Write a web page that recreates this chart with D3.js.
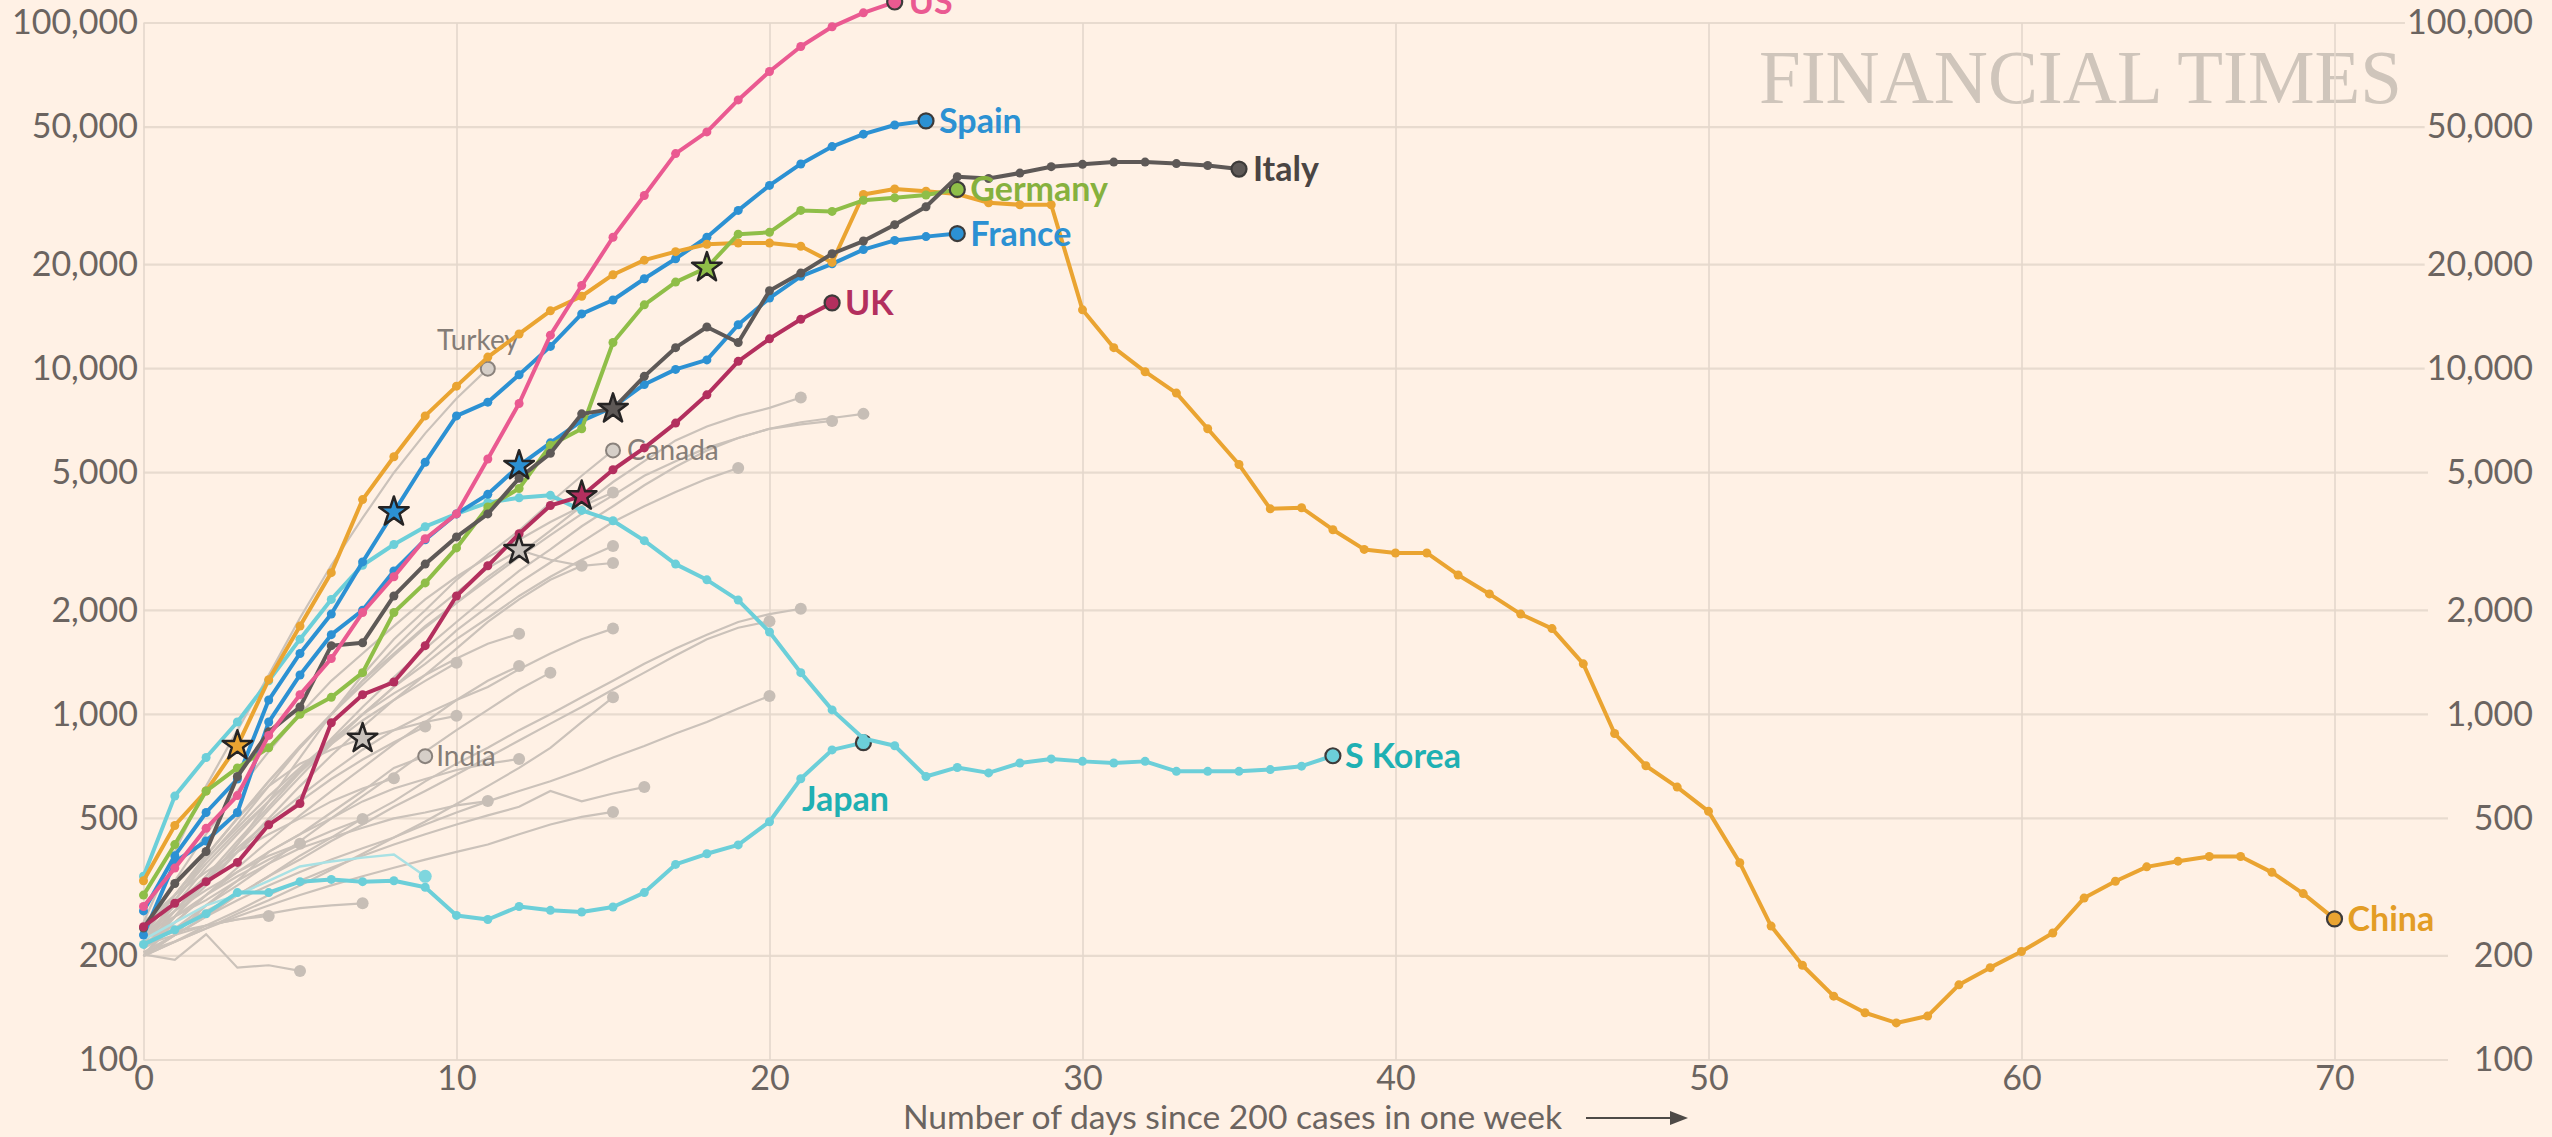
<!DOCTYPE html>
<html>
<head>
<meta charset="utf-8">
<script src="https://cdn.jsdelivr.net/npm/d3@7"></script>
<style>
  body { margin: 0; background: #fff1e5; }
  svg { display: block; font-family: Lato, "Open Sans", sans-serif; }
</style>
</head>
<body>
<svg id="chart"></svg>
<script>
// ---- data: new cases in the past week, by days since 200 cases in one week ----
const xTicks = [0, 10, 20, 30, 40, 50, 60, 70];
const yTicks = [100, 200, 500, 1000, 2000, 5000, 10000, 20000, 50000, 100000];

const us = [278, 359, 468, 582, 869, 1140, 1450, 1970, 2500, 3220, 3800, 5480, 7930, 12500, 17400, 24000, 31700, 41900, 48400, 59900, 72400, 85500, 97500, 107000, 115000];
const spain = [270, 390, 520, 650, 1100, 1500, 1950, 2760, 3850, 5360, 7300, 8000, 9600, 11600, 14400, 15800, 18200, 20800, 24000, 28700, 33900, 39100, 43900, 47700, 50700, 52100];
const italy = [241, 324, 401, 661, 890, 1050, 1580, 1610, 2200, 2720, 3260, 3800, 4820, 5690, 7400, 7650, 9500, 11500, 13200, 11900, 16800, 18900, 21500, 23400, 26100, 29400, 35900, 35500, 36800, 38400, 39000, 39600, 39600, 39200, 38700, 37800];
const germany = [300, 420, 600, 700, 800, 1000, 1120, 1320, 1970, 2400, 3030, 3980, 4500, 6000, 6700, 11900, 15300, 17800, 19600, 24500, 24800, 28700, 28500, 30700, 31200, 31800, 33000];
const france = [230, 374, 430, 520, 950, 1300, 1700, 2000, 2600, 3200, 3800, 4330, 5240, 6100, 7060, 7740, 9000, 9950, 10600, 13400, 16000, 18500, 20100, 22100, 23500, 24100, 24600];
const uk = [243, 284, 328, 373, 479, 552, 945, 1140, 1240, 1580, 2200, 2690, 3330, 4020, 4280, 5100, 5900, 6960, 8400, 10500, 12200, 13900, 15500];
const china = [330, 477, 600, 811, 1260, 1800, 2570, 4180, 5560, 7300,
  8900, 10800, 12600, 14700, 16200, 18700, 20600, 21800, 22900, 23100,
  23100, 22600, 20300, 31900, 33100, 32600, 32000, 30200, 29800, 29800,
  14800, 11500, 9800, 8500, 6700, 5280, 3930, 3960, 3420, 3000,
  2930, 2930, 2530, 2230, 1950, 1770, 1400, 880, 710, 616,
  524, 372, 244, 188, 153, 137, 128, 134, 165, 185,
  206, 233, 294, 329, 362, 376, 388, 388, 349, 303, 256];
const japan = [216, 238, 265, 305, 305, 328, 333, 328, 330, 316, 262, 255, 278, 271, 268, 277, 305, 368, 395, 419, 489, 651, 789, 828];
const sKorea = [340, 580, 750, 950, 1250, 1650, 2150, 2700, 3100, 3490, 3800, 4100, 4230, 4300, 3890, 3630, 3180, 2720, 2450, 2140, 1730, 1320, 1030, 851, 811, 661, 702, 677, 723, 743, 731, 723, 731, 684, 684, 684, 692, 708, 759];
const paleCyan = [223, 250, 280, 300, 330, 363, 375, 385, 393, 340];

const turkey = [250, 400, 620, 900, 1300, 1900, 2700, 3700, 5000, 6500, 8200, 10000];
const canada = [210, 260, 330, 420, 560, 750, 1000, 1300, 1650, 2000, 2450, 2900, 3400, 4100, 4900, 5800];
const india = [200, 230, 280, 330, 400, 450, 520, 600, 700, 757];

const others = [
  [220, 290, 380, 480, 620, 800, 1000, 1250, 1500, 1800, 2100, 2500, 2900, 3400, 4000, 4700, 5400, 6200, 6800, 7300, 7700, 8250],
  [210, 270, 340, 430, 540, 680, 850, 1050, 1280, 1550, 1850, 2200, 2600, 3000, 3500, 4000, 4600, 5200, 5800, 6300, 6700, 7000, 7200, 7400],
  [230, 300, 390, 500, 640, 800, 1000, 1220, 1480, 1780, 2100, 2450, 2850, 3300, 3800, 4300, 4900, 5400, 5900, 6300, 6700, 6900, 7060],
  [200, 260, 330, 420, 530, 660, 820, 1000, 1200, 1450, 1750, 2050, 2400, 2750, 3150, 3600, 4000, 4400, 4800, 5160],
  [240, 330, 450, 600, 780, 1000, 1250, 1500, 1800, 2150, 2500, 2850, 3200, 3600, 4000, 4380],
  [220, 280, 360, 450, 560, 690, 830, 1000, 1200, 1400, 1650, 1900, 2200, 2500, 2800, 3070],
  [230, 300, 390, 500, 640, 810, 1000, 1250, 1550, 1900, 2250, 2650, 2990, 2800, 2690, 2740],
  [210, 260, 320, 400, 500, 620, 760, 920, 1100, 1300, 1550, 1850, 2150, 2450, 2690],
  [200, 230, 260, 300, 340, 390, 440, 500, 560, 640, 720, 800, 900, 1000, 1120, 1250, 1400, 1550, 1700, 1850, 1950, 2020],
  [215, 240, 270, 300, 340, 380, 430, 480, 540, 600, 670, 750, 840, 940, 1050, 1180, 1320, 1480, 1650, 1780, 1860],
  [230, 280, 340, 410, 490, 580, 680, 790, 900, 1000, 1100, 1200, 1350, 1500, 1650, 1770],
  [240, 300, 380, 470, 580, 700, 840, 1000, 1150, 1300, 1450, 1600, 1710],
  [220, 290, 370, 460, 560, 680, 820, 960, 1100, 1250, 1410],
  [200, 250, 300, 360, 430, 510, 600, 700, 820, 950, 1100, 1250, 1380],
  [210, 240, 280, 320, 370, 430, 500, 580, 670, 780, 900, 1030, 1180, 1320],
  [200, 220, 240, 265, 290, 320, 355, 395, 440, 490, 550, 620, 700, 800, 950, 1120],
  [205, 230, 260, 290, 320, 350, 380, 410, 440, 480, 520, 560, 600, 640, 690, 750, 810, 880, 950, 1040, 1130],
  [230, 300, 390, 500, 620, 720, 790, 851, 900, 950, 990],
  [220, 270, 330, 400, 480, 560, 650, 740, 830, 922],
  [210, 250, 300, 350, 400, 450, 500, 560, 610, 650, 690, 720, 743],
  [200, 220, 245, 270, 300, 330, 360, 390, 420, 450, 480, 510, 540, 600, 560, 590, 616],
  [230, 260, 290, 330, 370, 410, 440, 470, 500, 520, 545, 561],
  [205, 220, 240, 260, 280, 300, 320, 340, 360, 380, 400, 420, 450, 480, 505, 522],
  [220, 260, 300, 340, 380, 420, 460, 498],
  [230, 270, 310, 350, 390, 422],
  [215, 230, 245, 255, 265, 275, 280, 284],
  [220, 235, 245, 255, 261],
  [202, 195, 231, 185, 188, 181],
  [250, 300, 350, 400, 450, 500, 560, 610, 653]
];

// lockdown stars: [series, day]
const stars = [
  [others[17], 7], [others[6], 12],
  [china, 3], [spain, 8], [france, 12], [uk, 14], [italy, 15], [germany, 18]
];

// ---- look ----
const highlighted = [
  { name: "Japan", data: japan, color: "#6ccfd9", text: "#1fb0b3", dx: -18, dy: 68, anchor: "middle" },
  { name: "S Korea", data: sKorea, color: "#6ccfd9", text: "#1fb0b3", dx: 12, dy: 12 },
  { name: "France", data: france, color: "#2c91d3", text: "#2c91d3", dx: 13, dy: 12 },
  { name: "Spain", data: spain, color: "#2c91d3", text: "#2c91d3", dx: 13, dy: 12 },
  { name: "China", data: china, color: "#eaa431", text: "#e39d25", dx: 13, dy: 12 },
  { name: "Germany", data: germany, color: "#8fbe48", text: "#86b13e", dx: 13, dy: 12 },
  { name: "Italy", data: italy, color: "#5e5957", text: "#4a4543", dx: 14, dy: 12 },
  { name: "UK", data: uk, color: "#b32f5e", text: "#b32f5e", dx: 13, dy: 12 },
  { name: "US", data: us, color: "#ea5a91", text: "#ea5a91", dx: 14, dy: 12 }
];
const namedGrey = [
  { name: "Turkey", data: turkey, dx: 31, dy: -19, anchor: "end" },
  { name: "Canada", data: canada, dx: 14, dy: 10 },
  { name: "India", data: india, dx: 11, dy: 10 }
];

const W = 2552, H = 1137;
const x = d3.scaleLinear().domain([0, 70]).range([143.5, 2334.5]);
const y = d3.scaleLog().domain([100, 100000]).range([1060, 23]);
const line = d3.line().x((d, i) => x(i)).y(d => y(d));
const pts = arr => arr.map((v, i) => [x(i), y(v)]);

const svg = d3.select("#chart").attr("width", W).attr("height", H);
svg.append("rect").attr("width", W).attr("height", H).attr("fill", "#fff1e5");

// watermark
svg.append("text")
  .attr("x", 1759).attr("y", 103)
  .attr("textLength", 643).attr("lengthAdjust", "spacingAndGlyphs")
  .style("font-family", "'Liberation Serif', 'DejaVu Serif', serif")
  .style("font-size", "76px")
  .attr("fill", "#cfc5bb")
  .text("FINANCIAL TIMES");

// vertical grid
svg.append("g")
  .attr("transform", `translate(0,${y(100)})`)
  .call(d3.axisBottom(x).tickValues(xTicks).tickSize(-(y(100) - y(100000))).tickFormat(""))
  .call(g => g.select(".domain").remove())
  .call(g => g.selectAll("line").attr("stroke", "#e4d7cc").attr("stroke-width", 1.6));

// right axis labels (drawn first so grid can stop short of them)
const fmt = d3.format(",");
const rightAx = svg.append("g")
  .attr("transform", "translate(2533,0)")
  .call(d3.axisRight(y).tickValues(yTicks).tickFormat(fmt).tickSize(0).tickPadding(0))
  .call(g => g.select(".domain").remove());
rightAx.selectAll("text").attr("text-anchor", "end");

// left axis labels
svg.append("g")
  .attr("transform", "translate(138,0)")
  .call(d3.axisLeft(y).tickValues(yTicks).tickFormat(fmt).tickSize(0).tickPadding(0))
  .call(g => g.select(".domain").remove());

// bottom axis labels
svg.append("g")
  .attr("transform", `translate(0,${y(100)})`)
  .call(d3.axisBottom(x).tickValues(xTicks).tickSize(0).tickPadding(6))
  .call(g => g.select(".domain").remove());

svg.selectAll(".tick text")
  .style("font-family", "Lato, sans-serif")
  .style("font-size", "34px")
  .attr("fill", "#6b6460");

// horizontal grid, stopping short of the right-hand labels
const hg = svg.insert("g", "g");
rightAx.selectAll(".tick").each(function (d) {
  const bb = d3.select(this).select("text").node().getBBox();
  const end = fmt(d).length <= 3 ? 2448 : Math.min(2428, 2533 + bb.x - 2);
  hg.append("line")
    .attr("x1", x(0)).attr("x2", end)
    .attr("y1", y(d)).attr("y2", y(d))
    .attr("stroke", "#e8dbcf").attr("stroke-width", 2.2);
});

// axis title + arrow
svg.append("text")
  .attr("x", 903).attr("y", 1129)
  .attr("textLength", 659).attr("lengthAdjust", "spacingAndGlyphs")
  .style("font-size", "32px").attr("fill", "#6b6460")
  .text("Number of days since 200 cases in one week");
svg.append("line").attr("x1", 1586).attr("x2", 1672).attr("y1", 1118).attr("y2", 1118)
  .attr("stroke", "#4e4a47").attr("stroke-width", 2);
svg.append("path").attr("d", "M1670,1111 L1688,1118 L1670,1125 Z").attr("fill", "#4e4a47");

// grey countries
const greyG = svg.append("g");
others.concat([turkey, canada, india]).forEach(arr => {
  greyG.append("path").attr("d", line(arr)).attr("fill", "none")
    .attr("stroke", "#cbc2ba").attr("stroke-width", 2.2);
});
others.forEach(arr => {
  const [px, py] = pts(arr)[arr.length - 1];
  greyG.append("circle").attr("cx", px).attr("cy", py).attr("r", 6).attr("fill", "#c7beb6");
});
namedGrey.forEach(s => {
  const [px, py] = pts(s.data)[s.data.length - 1];
  greyG.append("circle").attr("cx", px).attr("cy", py).attr("r", 7)
    .attr("fill", "#d6cfc8").attr("stroke", "#8a827c").attr("stroke-width", 2);
  greyG.append("text").attr("x", px + s.dx).attr("y", py + s.dy)
    .attr("text-anchor", s.anchor || "start")
    .style("font-size", "28px").attr("fill", "#857d77").text(s.name);
});

// faint cyan series
svg.append("path").attr("d", line(paleCyan)).attr("fill", "none")
  .attr("stroke", "#a9e1e4").attr("stroke-width", 2.5);
{
  const [px, py] = pts(paleCyan)[paleCyan.length - 1];
  svg.append("circle").attr("cx", px).attr("cy", py).attr("r", 6.5).attr("fill", "#7fd6de");
}

// highlighted countries
const hl = svg.append("g");
highlighted.forEach(s => {
  const g = hl.append("g");
  g.append("path").attr("d", line(s.data)).attr("fill", "none")
    .attr("stroke", s.color).attr("stroke-width", 4).attr("stroke-linejoin", "round");
  g.selectAll("circle.dot").data(pts(s.data).slice(0, -1)).join("circle")
    .attr("class", "dot").attr("cx", d => d[0]).attr("cy", d => d[1]).attr("r", 4.5)
    .attr("fill", s.color);
  const [px, py] = pts(s.data)[s.data.length - 1];
  g.append("circle").attr("cx", px).attr("cy", py).attr("r", 7.5)
    .attr("fill", s.color).attr("stroke", "#3d3b3a").attr("stroke-width", 2.2);
});

// stars
const starPath = d3.symbol(d3.symbolStar, 270)();
stars.forEach(([arr, day]) => {
  const s = highlighted.find(h => h.data === arr);
  svg.append("path").attr("d", starPath)
    .attr("transform", `translate(${x(day)},${y(arr[day])})`)
    .attr("fill", s ? s.color : "#c8c1bb")
    .attr("stroke", "#262424").attr("stroke-width", 2.5).attr("stroke-linejoin", "round");
});

// labels
highlighted.forEach(s => {
  const [px, py] = pts(s.data)[s.data.length - 1];
  svg.append("text").attr("x", px + s.dx).attr("y", py + s.dy)
    .attr("text-anchor", s.anchor || "start")
    .style("font-size", "34px").style("font-weight", 700)
    .attr("fill", s.text).text(s.name);
});
</script>
</body>
</html>
